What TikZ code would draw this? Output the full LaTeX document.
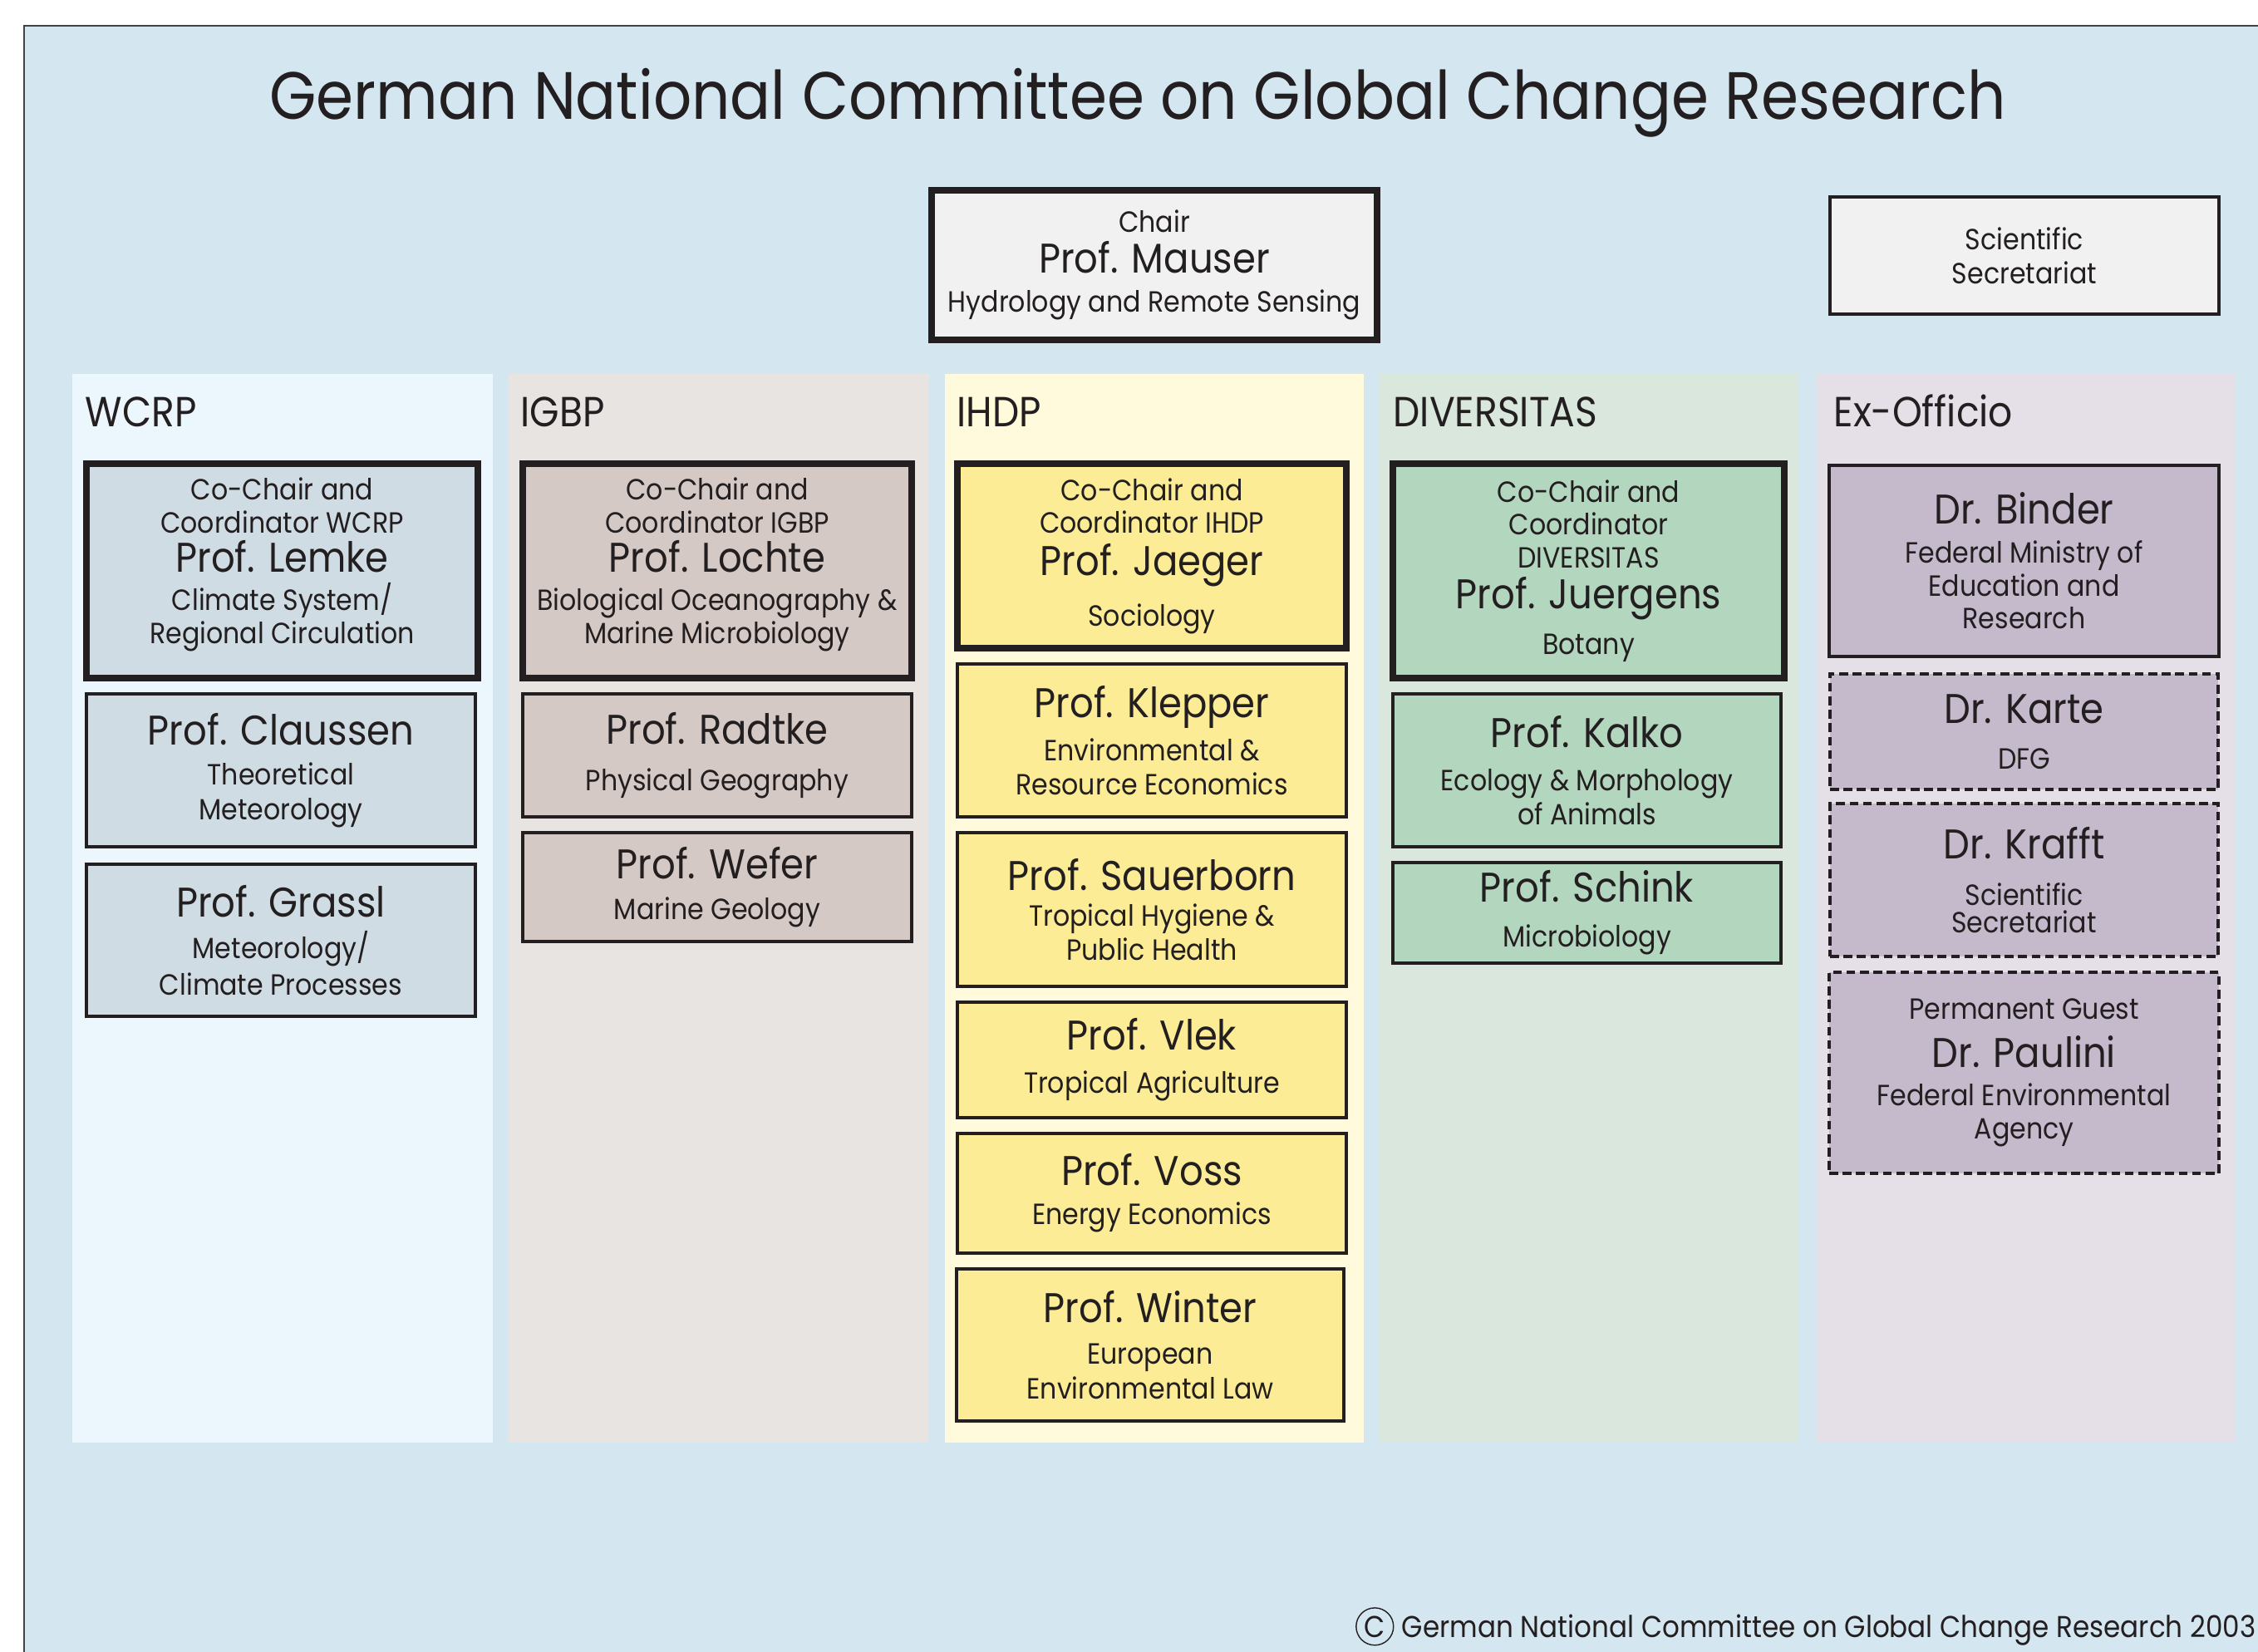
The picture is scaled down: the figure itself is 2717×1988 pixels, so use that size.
\documentclass[tikz,border=0pt]{standalone}
\usepackage{fontspec}
\setmainfont{Poppins}[FakeStretch=0.9]

\definecolor{ink}{HTML}{231F20}
\definecolor{sheet}{HTML}{D4E6F0}
\definecolor{colW}{HTML}{ECF7FD}
\definecolor{colI}{HTML}{E8E4E2}
\definecolor{colH}{HTML}{FEFADB}
\definecolor{colD}{HTML}{D9E7DD}
\definecolor{colE}{HTML}{E5DFE8}
\definecolor{boxW}{HTML}{D0DCE3}
\definecolor{boxI}{HTML}{D4C9C5}
\definecolor{boxH}{HTML}{FCEC96}
\definecolor{boxD}{HTML}{B3D6BE}
\definecolor{boxE}{HTML}{C5B9CC}
\definecolor{boxG}{HTML}{F1F1F1}

% name line in a member box
\newcommand\nm[1]{{\fontsize{14.2}{14.2}\selectfont #1}}
% box from its corners: name, style, x1, y1, x2, y2, text
\newcommand\placebox[7]{%
  \node[#2, minimum width={(#5-#3)*0.01cm}, minimum height={(#6-#4)*0.01cm}]
    (#1) at ({(#3+#5)/2},{(#4+#6)/2}) {#7};}

\begin{document}
\begin{tikzpicture}[x=0.01cm,y=-0.01cm,
  every node/.style={text=ink},
  member/.style={draw=ink, line width=0.9pt, inner sep=0pt, outer sep=0pt,
    align=center, font={\fontsize{10}{11.3}\selectfont\lineskiplimit=-50pt}},
  lead/.style={member, line width=2.3pt},
  guest/.style={member, dash pattern=on 3pt off 1.6pt},
  column/.style={inner sep=0pt, outer sep=0pt},
  collabel/.style={anchor=base west, inner sep=0pt, font=\fontsize{14.4}{16}\selectfont},
]
\useasboundingbox (0,0) rectangle (2717,1988);
\clip (0,0) rectangle (2717,1988);

% sheet
\fill[white] (0,0) rectangle (2717,1988);
\filldraw[fill=sheet, draw=ink!85, line width=0.6pt] (29,31) rectangle (2760,2030);

% title
\node[anchor=base, inner sep=0pt, font=\fontsize{22.9}{26}\selectfont] (title) at (1369,144)
  {German National Committee on Global Change Research};

% chair and secretariat
\placebox{chair}{lead, fill=boxG}{1121}{229}{1657}{409}
  {Chair\\[2.5pt]\nm{Prof. Mauser}\\[2pt]Hydrology and Remote Sensing}
\placebox{secr}{member, fill=boxG}{2202}{237}{2670}{378}
  {Scientific\\[0.5pt]Secretariat}

% programme columns
\placebox{wcrp}{column, fill=colW}{87}{450}{593}{1736}{}
\placebox{igbp}{column, fill=colI}{612}{450}{1118}{1736}{}
\placebox{ihdp}{column, fill=colH}{1137}{450}{1641}{1736}{}
\placebox{div}{column, fill=colD}{1660}{450}{2164}{1736}{}
\placebox{exoff}{column, fill=colE}{2185}{450}{2689}{1736}{}

\node[collabel] (lwcrp) at (102,513) {WCRP};
\node[collabel] (ligbp) at (626,513) {IGBP};
\node[collabel] (lihdp) at (1151,513) {IHDP};
\node[collabel] (ldiv) at (1676,513) {DIVERSITAS};
\node[collabel] (lexoff) at (2206,513) {Ex-Officio};

% WCRP
\placebox{lemke}{lead, fill=boxW, text depth=7pt}{104}{558}{575}{816}
  {Co-Chair and\\Coordinator WCRP\\[2pt]\nm{Prof. Lemke}\\[2pt]Climate System/\\Regional Circulation}
\placebox{claussen}{member, fill=boxW}{104}{835}{572}{1019}
  {\nm{Prof. Claussen}\\[2.5pt]Theoretical\\[0.5pt]Meteorology}
\placebox{grassl}{member, fill=boxW}{104}{1040}{572}{1223}
  {\nm{Prof. Grassl}\\[3pt]Meteorology/\\[1pt]Climate Processes}

% IGBP
\placebox{lochte}{lead, fill=boxI, text depth=7pt}{629}{558}{1097}{816}
  {Co-Chair and\\Coordinator IGBP\\[2pt]\nm{Prof. Lochte}\\[2pt]Biological Oceanography \&\\Marine Microbiology}
\placebox{radtke}{member, fill=boxI}{629}{835}{1097}{983}
  {\nm{Prof. Radtke}\\[4.5pt]Physical Geography}
\placebox{wefer}{member, fill=boxI}{629}{1002}{1097}{1133}
  {\nm{Prof. Wefer}\\[2.5pt]Marine Geology}

% IHDP
\placebox{jaeger}{lead, fill=boxH}{1152}{558}{1620}{780}
  {Co-Chair and\\Coordinator IHDP\\[3pt]\nm{Prof. Jaeger}\\[6pt]Sociology}
\placebox{klepper}{member, fill=boxH}{1152}{799}{1620}{983}
  {\nm{Prof. Klepper}\\[3.5pt]Environmental \&\\[0.5pt]Resource Economics}
\placebox{sauerborn}{member, fill=boxH}{1152}{1002}{1620}{1187}
  {\nm{Prof. Sauerborn}\\[1pt]Tropical Hygiene \&\\[0.5pt]Public Health}
\placebox{vlek}{member, fill=boxH}{1152}{1206}{1620}{1345}
  {\nm{Prof. Vlek}\\[3.5pt]Tropical Agriculture}
\placebox{voss}{member, fill=boxH}{1152}{1364}{1620}{1508}
  {\nm{Prof. Voss}\\[2pt]Energy Economics}
\placebox{winter}{member, fill=boxH}{1151}{1527}{1617}{1710}
  {\nm{Prof. Winter}\\[3pt]European\\[0.5pt]Environmental Law}

% DIVERSITAS
\placebox{juergens}{lead, fill=boxD}{1676}{558}{2147}{816}
  {Co-Chair and\\Coordinator\\DIVERSITAS\\[2.5pt]\nm{Prof. Juergens}\\[4.5pt]Botany}
\placebox{kalko}{member, fill=boxD}{1676}{835}{2143}{1019}
  {\nm{Prof. Kalko}\\[3.5pt]Ecology \& Morphology\\[0.5pt]of Animals}
\placebox{schink}{member, fill=boxD}{1676}{1038}{2143}{1159}
  {\nm{Prof. Schink}\\[4pt]Microbiology}

% Ex-Officio
\placebox{binder}{member, fill=boxE}{2201}{560}{2670}{790}
  {\nm{Dr. Binder}\\[2pt]Federal Ministry of\\Education and\\Research}
\placebox{karte}{guest, fill=boxE}{2202}{811}{2669}{950}
  {\nm{Dr. Karte}\\[4.5pt]DFG}
\placebox{krafft}{guest, fill=boxE}{2202}{967}{2669}{1151}
  {\nm{Dr. Krafft}\\[4.5pt]Scientific\\[-1.9pt]Secretariat}
\placebox{paulini}{guest, fill=boxE}{2201}{1170}{2670}{1412}
  {Permanent Guest\\[5pt]\nm{Dr. Paulini}\\[2pt]Federal Environmental\\Agency}

% copyright line
\node[anchor=base east, inner sep=0pt, font=\fontsize{10.3}{12}\selectfont] (copy) at (2715,1970)
  {German National Committee on Global Change Research 2003};
\node[circle, draw=ink, line width=0.4pt, inner sep=0.9pt, anchor=east,
  font=\fontsize{10.3}{12}\selectfont] (copysign) at ([xshift=-2.5pt,yshift=3.6pt]copy.base west) {C};
\end{tikzpicture}
\end{document}
